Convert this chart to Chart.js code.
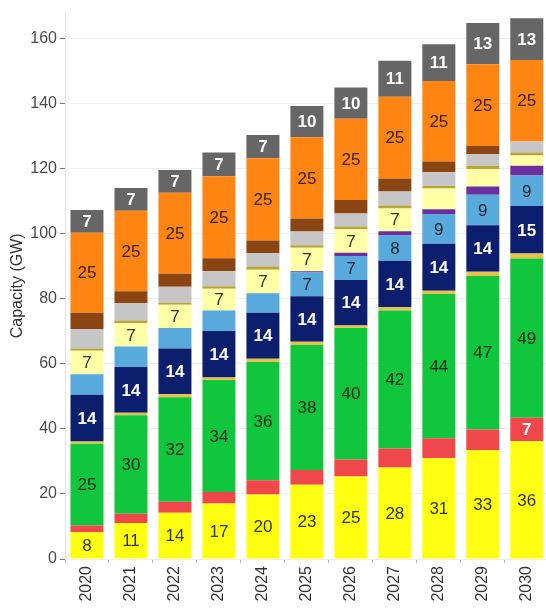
<!DOCTYPE html>
<html>
<head>
<meta charset="utf-8">
<script src="https://cdn.jsdelivr.net/npm/chart.js@4/dist/chart.umd.min.js"></script>
<style>
html,body{margin:0;padding:0;overflow:hidden;background:#fff}
#wrap{width:549px;height:609px;position:relative}
</style>
</head>
<body>
<div id="wrap"><canvas id="c"></canvas></div>
<script>
// Categories
const years = ['2020','2021','2022','2023','2024','2025','2026','2027','2028','2029','2030'];

// Series values (GW), stacked bottom -> top
const solarPV     = [8.2, 11.1, 14.2, 17.1, 19.8, 22.8, 25.4, 28.1, 31.0, 33.4, 36.2];
const solarOther  = [2.1, 2.8, 3.4, 3.5, 4.4, 4.6, 5.2, 5.9, 6.1, 6.4, 7.2];
const wind        = [25.1, 30.3, 32.1, 34.4, 36.4, 38.4, 40.4, 42.4, 44.4, 47.2, 49.0];
const windOther   = [0.7, 0.8, 1.0, 0.8, 1.0, 1.0, 0.8, 1.0, 1.0, 1.3, 1.5];
const hydro       = [14.4, 14.0, 14.0, 14.3, 14.1, 14.0, 14.0, 14.3, 14.4, 14.3, 14.6];
const storage     = [6.3, 6.3, 6.3, 6.3, 6.0, 7.3, 7.4, 7.8, 9.2, 9.4, 9.4];
const hydrogen    = [0, 0, 0, 0, 0, 0.4, 1.0, 1.3, 1.4, 2.5, 3.0];
const biomass     = [7.2, 7.2, 7.2, 6.7, 7.2, 7.2, 7.2, 7.0, 6.4, 5.4, 3.2];
const biogas      = [0.7, 0.8, 0.6, 0.8, 1.0, 0.8, 0.8, 0.9, 0.8, 1.0, 0.9];
const oil         = [6.0, 5.4, 4.9, 4.6, 4.2, 4.2, 4.0, 4.3, 4.2, 3.6, 3.4];
const coal        = [5.0, 3.6, 4.0, 4.0, 3.8, 4.0, 4.2, 4.0, 3.3, 2.5, 0];
const gas         = [24.6, 24.8, 24.9, 25.2, 25.3, 25.0, 25.0, 25.1, 24.8, 25.1, 25.0];
const other       = [7.0, 7.0, 7.0, 7.3, 7.2, 9.6, 9.6, 11.1, 11.3, 12.7, 12.9];

// Y tick values
const yTicks = [0, 20, 40, 60, 80, 100, 120, 140, 160];

const DARK = 'rgba(18,18,18,0.88)';
const LIGHT = '#ffffff';

const series = [
  {label:'Solar PV', data:solarPV, color:'#ffff12', txt:DARK},
  {label:'Solar other', data:solarOther, color:'#f0474a', txt:LIGHT},
  {label:'Wind', data:wind, color:'#10c63c', txt:DARK},
  {label:'Wind other', data:windOther, color:'#e8c24a', txt:DARK},
  {label:'Hydro', data:hydro, color:'#0b1f6e', txt:LIGHT},
  {label:'Storage', data:storage, color:'#58a9dc', txt:DARK},
  {label:'Hydrogen', data:hydrogen, color:'#6b2fa0', txt:LIGHT},
  {label:'Biomass', data:biomass, color:'#ffffa6', txt:DARK},
  {label:'Biogas', data:biogas, color:'#b9a43c', txt:DARK},
  {label:'Oil', data:oil, color:'#c6c6c6', txt:DARK},
  {label:'Coal', data:coal, color:'#8a4512', txt:LIGHT},
  {label:'Gas', data:gas, color:'#ff8513', txt:DARK},
  {label:'Other', data:other, color:'#666666', txt:LIGHT}
];

const FONT = '"Liberation Sans", Arial, sans-serif';

const segLabels = {
  id: 'segLabels',
  afterDatasetsDraw(chart) {
    const ctx = chart.ctx;
    chart.data.datasets.forEach((ds, i) => {
      const meta = chart.getDatasetMeta(i);
      meta.data.forEach((bar, j) => {
        const v = ds.data[j];
        if (v < 6.5) return;
        const p = bar.getProps(['x', 'y', 'base'], true);
        ctx.save();
        ctx.font = (ds.txtColor === LIGHT ? 'bold ' : '') + '17px ' + FONT;
        ctx.fillStyle = ds.txtColor;
        ctx.textAlign = 'center';
        ctx.textBaseline = 'middle';
        ctx.fillText(String(Math.round(v)), p.x, (p.y + p.base) / 2 + 1);
        ctx.restore();
      });
    });
  }
};

new Chart(document.getElementById('c'), {
  type: 'bar',
  data: {
    labels: years,
    datasets: series.map(s => ({
      label: s.label,
      data: s.data,
      backgroundColor: s.color,
      txtColor: s.txt,
      borderWidth: 0,
      barPercentage: 0.75,
      categoryPercentage: 1.0,
      stack: 's'
    }))
  },
  options: {
    responsive: true,
    maintainAspectRatio: false,
    devicePixelRatio: 1,
    animation: false,
    layout: {padding: 0},
    plugins: {legend: {display: false}, tooltip: {enabled: false}},
    scales: {
      x: {
        stacked: true,
        afterFit(s) { s.height = 50; },
        grid: {display: true, offset: true, drawOnChartArea: false, tickLength: 4, tickColor: '#b0b0b0'},
        border: {display: false},
        ticks: {maxRotation: 90, minRotation: 90, padding: 3, color: '#333', font: {family: FONT, size: 16}}
      },
      y: {
        stacked: true,
        min: 0,
        max: 168,
        afterFit(s) { s.width = 65; },
        afterBuildTicks(s) { s.ticks = yTicks.map(v => ({value: v})); },
        grid: {color: '#eeeeee', tickColor: '#777', tickLength: 5},
        border: {display: true, color: '#e4e4e4'},
        ticks: {padding: 3, color: '#4a4a4a', font: {family: FONT, size: 16}},
        title: {display: true, text: 'Capacity (GW)', color: '#333', font: {family: FONT, size: 16}, padding: {top: 8, bottom: 0}}
      }
    }
  },
  plugins: [segLabels]
});
</script>
</body>
</html>
